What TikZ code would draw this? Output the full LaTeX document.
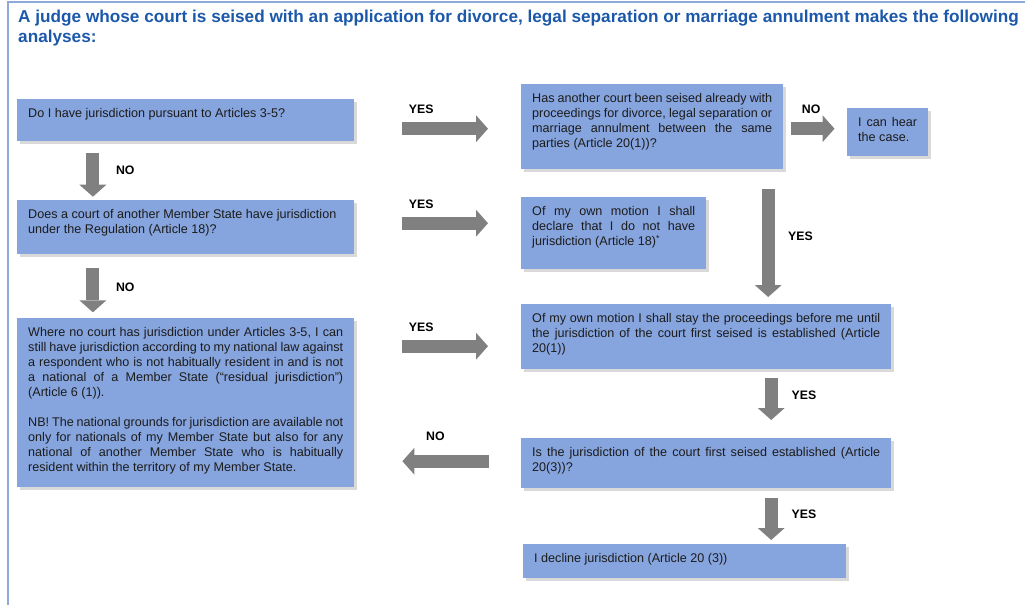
\documentclass[tikz,border=0pt]{standalone}
\usepackage{fontspec}
\setmainfont{Liberation Sans}
\usepackage{xcolor}
\usetikzlibrary{arrows.meta, calc, shadows}

\definecolor{boxblue}{RGB}{134,164,221}
\definecolor{framec}{RGB}{142,170,219}
\definecolor{titleblue}{RGB}{28,88,170}
\definecolor{arrowgrey}{RGB}{128,128,128}
\definecolor{textgrey}{RGB}{28,28,28}

% text block inside a box: width, height, text
\newcommand{\qtext}[3]{\parbox[t][#2][t]{#1}{\tolerance=9999\hbadness=10000 #3}}

\begin{document}
\begin{tikzpicture}[x=1pt, y=-1pt,
    every node/.style={font=\fontsize{12.6}{14.8}\selectfont, text=textgrey},
    qbox/.style={fill=boxblue, anchor=north west, inner xsep=11pt, inner ysep=9.5pt,
                 drop shadow={shadow xshift=2.5pt, shadow yshift=-2.5pt, opacity=0.3}},
    fat/.style={line width=13pt, arrowgrey,
                -{Triangle[length=12pt, width=27pt, line width=0pt]}},
    yn/.style={font=\bfseries\fontsize{12.3}{13}\selectfont, text=black, inner sep=0pt}]
  \useasboundingbox (0,0) rectangle (1025,605);
  \draw[framec, line width=2pt] (1025,2) -- (7.5,2) -- (7.5,605);

  \node[anchor=base west, inner sep=0pt, align=left, text=titleblue,
        font=\bfseries\fontsize{17.2}{20}\selectfont] (title) at (18,42.5)
    {A judge whose court is seised with an application for divorce, legal separation or marriage annulment makes the following\\analyses:};

  % left column
  \node[qbox] (qa) at (17,99) {\qtext{315pt}{23pt}{Do I have jurisdiction pursuant to Articles 3-5?}};
  \node[qbox] (qb) at (17,200) {\qtext{315pt}{35pt}{Does a court of another Member State have jurisdiction\\under the Regulation (Article 18)?}};
  \node[qbox] (qc) at (17,318) {\qtext{315pt}{150pt}{Where no court has jurisdiction under Articles 3-5, I can\linebreak
    still have jurisdiction according to my national law against\linebreak
    a respondent who is not habitually resident in and is not\linebreak
    a national of a Member State (“residual jurisdiction”)\linebreak
    (Article 6 (1)).\par\vspace{16pt}
    NB! The national grounds for jurisdiction are available not\linebreak
    only for nationals of my Member State but also for any\linebreak
    national of another Member State who is habitually\linebreak
    resident within the territory of my Member State.}};

  % right column
  \node[qbox] (qd) at (521,84) {\qtext{240pt}{66pt}{Has another court been seised already with\linebreak
    proceedings for divorce, legal separation or\linebreak
    marriage annulment between the same\linebreak
    parties (Article 20(1))?}};
  \node[qbox] (qe) at (847,108) {\qtext{59pt}{29pt}{I can hear\linebreak the case.}};
  \node[qbox] (qf) at (521,197) {\qtext{163pt}{53pt}{Of my own motion I shall\linebreak
    declare that I do not have\linebreak
    jurisdiction (Article 18)\textsuperscript{*}}};
  \node[qbox] (qg) at (521,304) {\qtext{348pt}{46pt}{Of my own motion I shall stay the proceedings before me until\linebreak
    the jurisdiction of the court first seised is established (Article\linebreak
    20(1))}};
  \node[qbox] (qh) at (521,438) {\qtext{348pt}{31pt}{Is the jurisdiction of the court first seised established (Article\linebreak
    20(3))?}};
  \node[qbox] (qi) at (523,544) {\qtext{301pt}{15pt}{I decline jurisdiction (Article 20 (3))}};

  % arrows
  \draw[fat] ($(qa.south)+(-92.8,11.7)$) -- ($(qb.north)+(-92.8,-3.3)$)
        node[pos=0.39, yn, anchor=west, xshift=16.6pt] {NO};
  \draw[fat] ($(qb.south)+(-92.8,14)$) -- ($(qc.north)+(-92.8,-5.7)$)
        node[pos=0.42, yn, anchor=west, xshift=16.6pt] {NO};
  \draw[fat] ($(qa.east)+(48,8.5)$) -- ($(qd.west)+(-33,2)$)
        node[at start, yn, anchor=base west, yshift=15.2pt] {YES};
  \draw[fat] ($(qb.east)+(48,-4)$) -- ($(qf.west)+(-33,-10)$)
        node[at start, yn, anchor=base west, yshift=15.2pt] {YES};
  \draw[fat] ($(qc.east)+(48,-56.5)$) -- ($(qg.west)+(-33,9.5)$)
        node[at start, yn, anchor=base west, yshift=15.2pt] {YES};
  \draw[fat] ($(qd.east)+(8,2)$) -- ($(qe.west)+(-12.5,-3.5)$)
        node[at start, yn, anchor=base west, xshift=4pt, yshift=15.2pt] {NO};
  \draw[fat] ($(qd.south)+(116,20)$) -- ($(qg.north)+(62,-7)$)
        node[pos=0.44, yn, anchor=west, xshift=13.5pt] {YES};
  \draw[fat] ($(qg.south)+(65,9)$) -- ($(qh.north)+(65,-18)$)
        node[pos=0.4, yn, anchor=west, xshift=14pt] {YES};
  \draw[fat] ($(qh.south)+(65,10)$) -- ($(qi.north)+(86.5,-4)$)
        node[pos=0.39, yn, anchor=west, xshift=14pt] {YES};
  \draw[fat] ($(qh.west)+(-32.5,-2)$) -- ($(qc.east)+(48,58.5)$)
        node[pos=0.8, yn, anchor=base west, yshift=21.2pt] {NO};
\end{tikzpicture}
\end{document}
